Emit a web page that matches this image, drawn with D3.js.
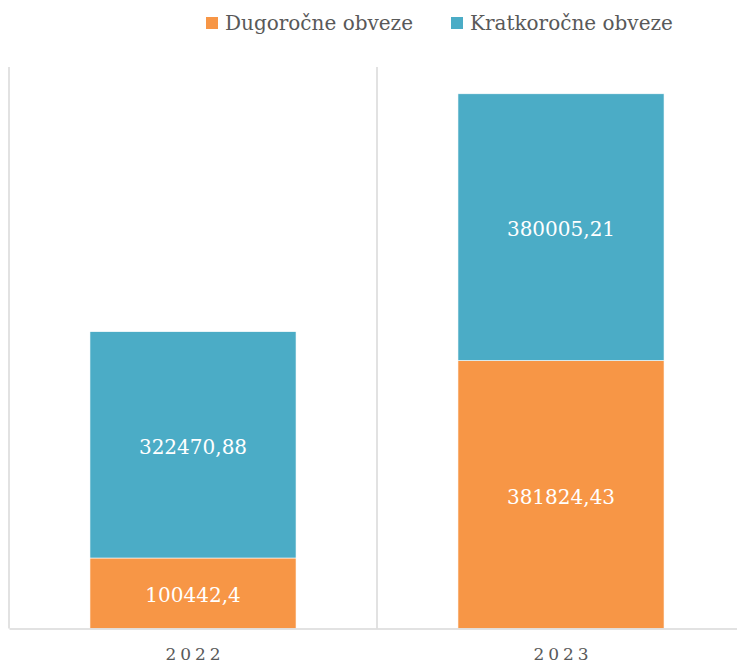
<!DOCTYPE html>
<meta charset="utf-8">
<title>Obveze</title>
<style>
    body { margin: 0; background: #fff; }
    svg { display: block; font-family: "DejaVu Serif", serif; }
    .grid line { stroke: #d9d9d9; stroke-width: 1.5; }
    .axis--x .domain { stroke: #d9d9d9; stroke-width: 1.5; }
    .axis--x .tick line { display: none; }
    .axis--x .tick text { fill: #595959; font-size: 17px; letter-spacing: 4px; }
    .label { fill: #fff; font-size: 20px; }
    .legend text { fill: #595959; font-size: 20px; }
</style>
<body>
<svg width="737" height="664"></svg>
<script src="https://d3js.org/d3.v7.min.js"></script>
<script>
    var years = ["2022", "2023"];
    var series = ["Dugoročne obveze", "Kratkoročne obveze"];
    var dugorocne = [100442.4, 381824.43];
    var kratkorocne = [322470.88, 380005.21];
    var labels = [["100442,4", "381824,43"], ["322470,88", "380005,21"]];
    var colors = ["#f79646", "#4bacc6"];

    var svg = d3.select("svg");
    var plotLeft = 9, plotRight = 745, plotTop = 67, plotBottom = 628.5;

    var x = d3.scaleBand().domain(years).range([plotLeft, plotRight]).paddingInner(0).paddingOuter(0);
    var y = d3.scaleLinear().domain([0, 800000]).range([plotBottom, plotTop]);

    var rows = years.map(function(d, i) {
        return { year: d, "Dugoročne obveze": dugorocne[i], "Kratkoročne obveze": kratkorocne[i] };
    });
    var stacked = d3.stack().keys(series)(rows);

    // vertical grid at category boundaries
    var bounds = years.map(function(d) { return x(d); }).concat([x(years[years.length - 1]) + x.bandwidth()]);
    svg.append("g").attr("class", "grid")
        .selectAll("line").data(bounds).enter().append("line")
        .attr("x1", function(d) { return d; }).attr("x2", function(d) { return d; })
        .attr("y1", plotTop).attr("y2", plotBottom);

    var barW = x.bandwidth() * 0.56;
    var off = (x.bandwidth() - barW) / 2;

    var layers = svg.append("g").selectAll("g").data(stacked).enter().append("g")
        .attr("fill", function(d, i) { return colors[i]; });
    layers.selectAll("rect").data(function(d) { return d; }).enter().append("rect")
        .attr("x", function(d) { return x(d.data.year) + off; })
        .attr("width", barW)
        .attr("y", function(d) { return y(d[1]); })
        .attr("height", function(d) { return y(d[0]) - y(d[1]); })
        .attr("stroke", "#fff").attr("stroke-width", 0.6);

    stacked.forEach(function(s, si) {
        svg.append("g").selectAll("text").data(s).enter().append("text")
            .attr("class", "label")
            .attr("text-anchor", "middle")
            .attr("dy", "0.35em")
            .attr("x", function(d) { return x(d.data.year) + x.bandwidth() / 2; })
            .attr("y", function(d) { return (y(d[0]) + y(d[1])) / 2 + 2; })
            .text(function(d, i) { return labels[si][i]; });
    });

    svg.append("g").attr("class", "axis axis--x")
        .attr("transform", "translate(0," + plotBottom + ")")
        .call(d3.axisBottom(x).tickSize(0).tickPadding(19).tickSizeOuter(0))
        .attr("font-family", null)
        .selectAll("text").attr("dx", "2px");

    // legend
    var legend = svg.append("g").attr("class", "legend");
    var lx = [206, 451];
    series.forEach(function(s, i) {
        var g = legend.append("g").attr("transform", "translate(" + lx[i] + ",0)");
        g.append("rect").attr("x", 0).attr("y", 17).attr("width", 12).attr("height", 12).attr("fill", colors[i]);
        g.append("text").attr("x", 19).attr("y", 30).text(s);
    });
</script>
</body>
